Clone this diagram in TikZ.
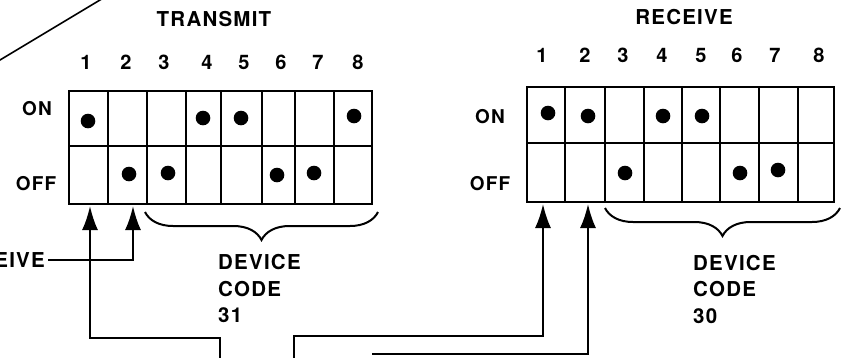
\documentclass[tikz,border=0pt]{standalone}
\usepackage{fontspec}
\setmainfont{TeX Gyre Heros}
\newfontfamily\lbl{TeX Gyre Heros}[LetterSpace=6]
\usetikzlibrary{arrows.meta,decorations.pathreplacing}
\begin{document}
\begin{tikzpicture}[x=1pt,y=-1pt,
  gridline/.style={line width=2.2pt},
  wire/.style={line width=2pt},
  arr/.style={wire,-{Latex[length=24pt,width=16pt]}},
  dotmark/.style={fill=black},
  bigtxt/.style={font=\lbl\bfseries\fontsize{20.5}{22}\selectfont,inner sep=0pt},
  numtxt/.style={font=\lbl\bfseries\fontsize{20}{22}\selectfont,inner sep=0pt},
  rowtxt/.style={font=\lbl\bfseries\fontsize{19}{21}\selectfont,inner sep=0pt},
  bracestyle/.style={line width=2pt,decorate,decoration={brace,amplitude=28pt}}]
\useasboundingbox (0,0) rectangle (850,357);
% diagonal line
\draw[line width=1.6pt] (-5,63) -- (105,-3);
% titles
\node[bigtxt] (ttx) at (214,19) {TRANSMIT};
\node[bigtxt] (trx) at (684,17) {RECEIVE};
% left table
\draw[gridline] (69,91) rectangle (372,204);
\draw[gridline] (69,146) -- (372,146);
\foreach \x in {108,147,186,221,262,295,334}
  \draw[gridline] (\x,91) -- (\x,204);
% right table
\draw[gridline] (527,87) rectangle (834,202);
\draw[gridline] (527,143) -- (834,143);
\foreach \x in {565,605,644,682,720,759,798}
  \draw[gridline] (\x,87) -- (\x,202);
% column numbers
\foreach \x [count=\i] in {86,126,164,207,244,281,318,358}
  \node[numtxt] (ln\i) at (\x,62) {\i};
\foreach \x [count=\i] in {542,585,623,662,701,737,775,819}
  \node[numtxt] (rn\i) at (\x,55) {\i};
% row labels
\node[rowtxt] (lon) at (37,109) {ON};
\node[rowtxt] (loff) at (36,184) {OFF};
\node[rowtxt] (ron) at (490,117) {ON};
\node[rowtxt] (roff) at (490,184) {OFF};
% dots
\foreach \p in {(88,121),(203,118),(241,118),(354,116),(129,174),(168,173),(277,175),(314,173),
  (548,113),(588,116),(663,116),(702,116),(625,173),(740,173),(778,170)}
  \fill[dotmark] \p circle (7.3);
% braces
\draw[bracestyle] (378,212) -- (145,212);
\draw[bracestyle] (840,208) -- (605,208);
% device code labels
\node[bigtxt,anchor=west] (ld1) at (218,262) {DEVICE};
\node[bigtxt,anchor=west] (ld2) at (218,289) {CODE};
\node[bigtxt,anchor=west] (ld3) at (218,315) {31};
\node[bigtxt,anchor=west] (rd1) at (693,263) {DEVICE};
\node[bigtxt,anchor=west] (rd2) at (693,289) {CODE};
\node[bigtxt,anchor=west] (rd3) at (693,316) {30};
% receive label (cut at left edge, as in the reference)
\node[bigtxt,anchor=east] (rcv) at (45,260) {RECEIVE};
% arrow tips
\coordinate (lt1) at (90,206);
\coordinate (lt2) at (133,206);
\coordinate (rt1) at (543,204);
\coordinate (rt2) at (588,204);
% bottom ends
\coordinate (b1) at (220,360);
\coordinate (b2) at (294,360);
\coordinate (b3) at (372,354);
% connectors
\draw[arr] (rcv.east) ++(3,0) -| (lt2);
\draw[arr] (b1) |- (90,338) -- (lt1);
\draw[arr] (b2) |- (rt1 |- 0,336) -- (rt1);
\draw[arr] (b3) -| (rt2);
\end{tikzpicture}
\end{document}
